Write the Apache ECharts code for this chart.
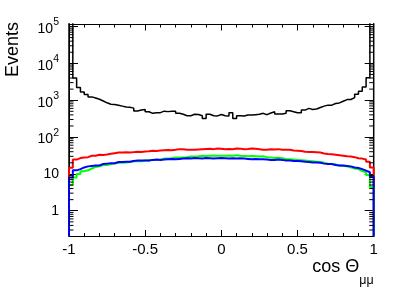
<!DOCTYPE html>
<html><head><meta charset="utf-8">
<script src="https://cdn.jsdelivr.net/npm/echarts@6/dist/echarts.min.js"></script>
<style>html,body{margin:0;padding:0;background:#fff}#c{width:407px;height:289px}</style>
</head><body><div id="c"></div><script>
const X_MIN = -1, X_MAX = 1;
const Y_MIN = 0.2, Y_MAX = 1.17e5;
const xTickStep = 0.5;
const blackData = [130000,4000,2200,1670,1420,1230,1150,1060,950,850,
  780,760,730,690,650,640,610,510,540,560,
  485,440,455,460,505,490,505,500,440,415,
  380,380,415,410,380,320,415,380,375,410,
  380,375,460,320,380,375,395,395,405,415,
  440,405,450,485,420,420,440,515,485,455,
  455,540,600,560,575,635,690,735,735,815,
  845,940,1040,1045,1180,1450,1745,2280,4070,130000];
const redData = [14.6,24.5,26.9,28,28.5,31,31,33,32.5,33.5,
  35,36.5,38,38,38.5,38,39,40,39.5,40.5,
  41,42.5,42,43,44,44.5,44,45,47,46.5,
  45,45.5,45,46,47,47.5,48,47,49,48,
  47,47.5,46.5,49,48.5,47,47.5,49,48,47,
  45.5,45,46.5,46,47,45,45.5,45,43,42.5,
  42,40,39.5,39,38.5,38,36,34.5,34,33,
  32,31,30,29.5,28.5,26.5,26,24.5,21.5,15];
const greenData = [5,8,10,11.8,12.5,14,15.5,16,17.5,17.5,
  18.5,19,20,20,20.5,21,22,22,22,23,
  23,24,24,24.5,26,26,26.5,28,28,28,
  28.5,29.5,29.5,30,31,30.5,31,31.5,31,31,
  31,31.5,31,32,31,30.5,30,30.5,30,29.5,
  30,28.5,28,27,27.5,26.5,25.5,25,24.5,24,
  23.5,23,22.5,22,21.5,21,20,19,18.5,18,
  17,16.5,16,15,14,13.5,12,11,9.4,4.4];
const blueData = [8,12.5,13.5,15,16,16.5,17,17,18.5,19,
  19.5,19.5,21,21,21.5,21.5,22.5,23,23,23,
  23,24,24.5,24,24.5,25,25.5,25,25.5,26,
  26.5,26,27,26.5,26,27,26.5,26,26.5,27,
  26.5,26,26.5,26,26.5,26,25.5,25,25.5,25,
  25,24.5,24,24,24.5,24,23,23,22.5,22.5,
  22,21.5,21,20.5,20.5,20,19,18.5,18.5,17.5,
  17,17,16.5,16,15,14.5,13.5,12.3,11.1,8.5];

function histPoints(vals) {
  const w = (X_MAX - X_MIN) / vals.length;
  const pts = [[X_MIN, Y_MIN]];
  vals.forEach((v, i) => { pts.push([X_MIN + i * w, v]); pts.push([X_MIN + (i + 1) * w, v]); });
  pts.push([X_MAX, Y_MIN]);
  return pts;
}
const minorVals = [];
for (let n = -1; n <= 4; n++) for (let m = 2; m <= 9; m++) {
  const v = m * Math.pow(10, n);
  if (v >= Y_MIN && v <= Y_MAX) minorVals.push([X_MIN, v]);
}
function yLabel(v) {
  const l = Math.log10(v), r = Math.round(l);
  if (Math.abs(l - r) > 1e-6) return '';
  if (r === 0) return '1';
  if (r === 1) return '10';
  return '{b|10}{s|' + r + '}';
}
const axisColor = '#000';
function xAx(pos, labels) {
  return {
    type: 'value', min: X_MIN, max: X_MAX, interval: xTickStep, position: pos,
    axisLine: { show: true, onZero: false, lineStyle: { color: axisColor, width: 1 } },
    axisTick: { show: true, inside: true, length: 6.5, lineStyle: { color: axisColor } },
    minorTick: { show: true, splitNumber: 5, length: 3.5, lineStyle: { color: axisColor } },
    axisLabel: { show: labels, fontSize: 15, color: '#000', margin: 6,
      formatter: v => String(v) },
    splitLine: { show: false }, minorSplitLine: { show: false }
  };
}
function yAx(pos, labels) {
  return {
    type: 'log', logBase: 10, min: Y_MIN, max: Y_MAX, position: pos,
    axisLine: { show: true, onZero: false, lineStyle: { color: axisColor, width: 1 } },
    axisTick: { show: true, inside: true, length: 9, lineStyle: { color: axisColor } },
    axisLabel: { show: labels, fontSize: 14, color: '#000', margin: 10, showMinLabel: false, showMaxLabel: false,
      formatter: yLabel,
      rich: { b: { fontSize: 14, color: '#000', padding: [5, 0, 0, 0] }, s: { fontSize: 10.5, color: '#000', verticalAlign: 'top' } } },
    splitLine: { show: false }, minorSplitLine: { show: false }
  };
}
const xBottom = xAx('bottom', true);
Object.assign(xBottom, {
  name: '{a|cos \u0398}{b|\u03bc\u03bc}', nameLocation: 'end', nameGap: 0, nameMoveOverlap: false,
  nameTextStyle: { align: 'right', verticalAlign: 'top', padding: [22, 0, 0, 0],
    rich: { a: { fontSize: 18, color: '#000', lineHeight: 18 }, b: { fontSize: 12.5, color: '#000', lineHeight: 12, padding: [26, 0, 0, 0] } } }
});
const yLeft = yAx('left', true);
Object.assign(yLeft, {
  name: 'Events', nameLocation: 'end', nameGap: 2, nameRotate: 90, nameMoveOverlap: false,
  nameTextStyle: { fontSize: 18, color: '#000', align: 'right', verticalAlign: 'bottom', padding: [0, 0, 47, 0] }
});
function lineSeries(data, color, width) {
  return { type: 'line', data: histPoints(data), showSymbol: false, symbol: 'none', clip: true,
    lineStyle: { color: color, width: width }, animation: false, xAxisIndex: 0, yAxisIndex: 0 };
}
const chart = echarts.init(document.getElementById('c'), null, { renderer: 'canvas' });
chart.setOption({
  animation: false,
  backgroundColor: '#fff',
  textStyle: { fontFamily: 'Liberation Sans' },
  grid: { left: 69, right: 33.3, top: 24, bottom: 52.5, containLabel: false },
  xAxis: [xBottom, xAx('top', false)],
  yAxis: [yLeft, yAx('right', false)],
  series: [
    lineSeries(blackData, '#000', 1.5),
    lineSeries(redData, '#ff0000', 2),
    lineSeries(greenData, '#00ff00', 2),
    lineSeries(blueData, '#0000ff', 2),
    { type: 'custom', data: minorVals, xAxisIndex: 0, yAxisIndex: 0, encode: { x: 0, y: 1 }, z: 5, animation: false,
      renderItem: function (params, api) {
        const v = api.value(1);
        const pl = api.coord([X_MIN, v]), pr = api.coord([X_MAX, v]);
        return { type: 'group', children: [
          { type: 'line', shape: { x1: pl[0], y1: pl[1], x2: pl[0] + 4.5, y2: pl[1] }, style: { stroke: '#000', lineWidth: 1 } },
          { type: 'line', shape: { x1: pr[0] - 4.5, y1: pr[1], x2: pr[0], y2: pr[1] }, style: { stroke: '#000', lineWidth: 1 } }
        ] };
      } }
  ]
});
</script></body></html>
